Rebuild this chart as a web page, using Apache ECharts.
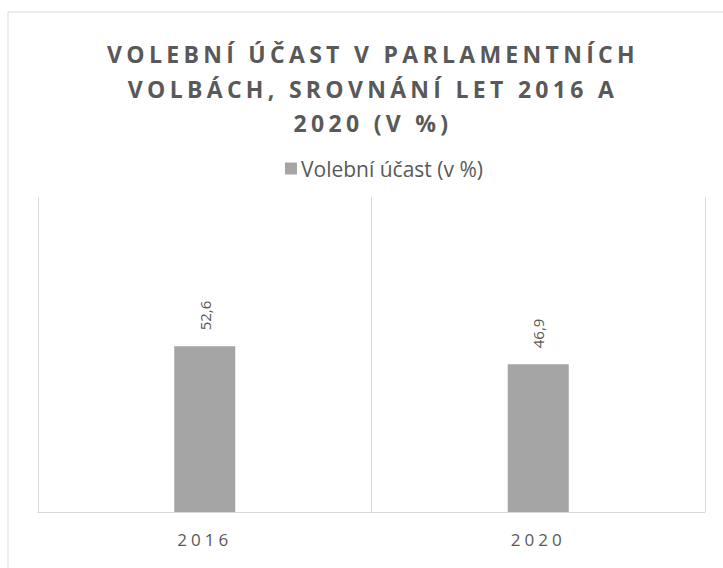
<!DOCTYPE html>
<html>
<head>
<meta charset="utf-8">
<script src="https://cdn.jsdelivr.net/npm/echarts@6/dist/echarts.min.js"></script>
<style>
html, body { margin: 0; padding: 0; background: #fff; }
#chart { width: 723px; height: 568px; }
</style>
</head>
<body>
<div id="chart"></div>
<script>
// data
var years = ['2016', '2020'];
var turnout = [52.6, 46.9];
var seriesName = 'Volební účast (v %)';
var titleLines = ['VOLEBNÍ ÚČAST V PARLAMENTNÍCH', 'VOLBÁCH, SROVNÁNÍ LET 2016 A', '2020 (V %)'];

var chart = echarts.init(document.getElementById('chart'), null, { renderer: 'svg' });

var option = {
    animation: false,
    title: {
        text: titleLines.join('\n'),
        left: 373,
        top: 37,
        padding: 0,
        textAlign: 'center',
        textStyle: {
            fontFamily: 'Open Sans',
            fontWeight: 'bold',
            fontSize: 23,
            lineHeight: 34.5,
            color: '#595959'
        }
    },
    legend: {
        data: [seriesName],
        left: 285,
        top: 158,
        padding: 0,
        itemWidth: 12,
        itemHeight: 12,
        icon: 'rect',
        textStyle: {
            fontFamily: 'Open Sans',
            fontSize: 21,
            color: '#595959',
            padding: [0, 0, 0, -1]
        }
    },
    grid: {
        left: 38,
        right: 18,
        top: 197,
        bottom: 56,
        containLabel: false
    },
    xAxis: {
        type: 'category',
        data: years,
        boundaryGap: true,
        axisLine: { lineStyle: { color: '#d9d9d9', width: 1 } },
        axisTick: { show: false },
        splitLine: { show: true, interval: 0, lineStyle: { color: '#d9d9d9', width: 1 } },
        axisLabel: {
            margin: 19,
            fontFamily: 'Open Sans',
            fontSize: 17,
            color: '#595959'
        }
    },
    yAxis: {
        type: 'value',
        min: 0,
        max: 100,
        show: false
    },
    series: [
        {
            name: seriesName,
            type: 'bar',
            data: turnout,
            barWidth: 61,
            itemStyle: { color: '#a5a5a5' },
            label: {
                show: true,
                position: 'top',
                distance: 16,
                rotate: 90,
                align: 'left',
                verticalAlign: 'middle',
                fontFamily: 'Open Sans',
                fontSize: 15,
                color: '#595959',
                formatter: function (p) {
                    return p.value.toFixed(1).replace('.', ',');
                }
            }
        }
    ],
    graphic: [
        {
            type: 'rect',
            silent: true,
            shape: { x: 8, y: 12, width: 730, height: 570 },
            style: { fill: 'none', stroke: '#d9d9d9', lineWidth: 1 }
        }
    ]
};

chart.setOption(option);

// spaced capitals in the title and on the axis, like the original
function spaceLetters() {
    var texts = chart.getDom().querySelectorAll('text');
    texts.forEach(function (t) {
        var s = t.textContent;
        if (titleLines.indexOf(s) >= 0) {
            t.style.letterSpacing = '4.3px';
        } else if (years.indexOf(s) >= 0) {
            t.style.letterSpacing = '4px';
        }
    });
}
chart.on('finished', spaceLetters);
spaceLetters();
</script>
</body>
</html>
